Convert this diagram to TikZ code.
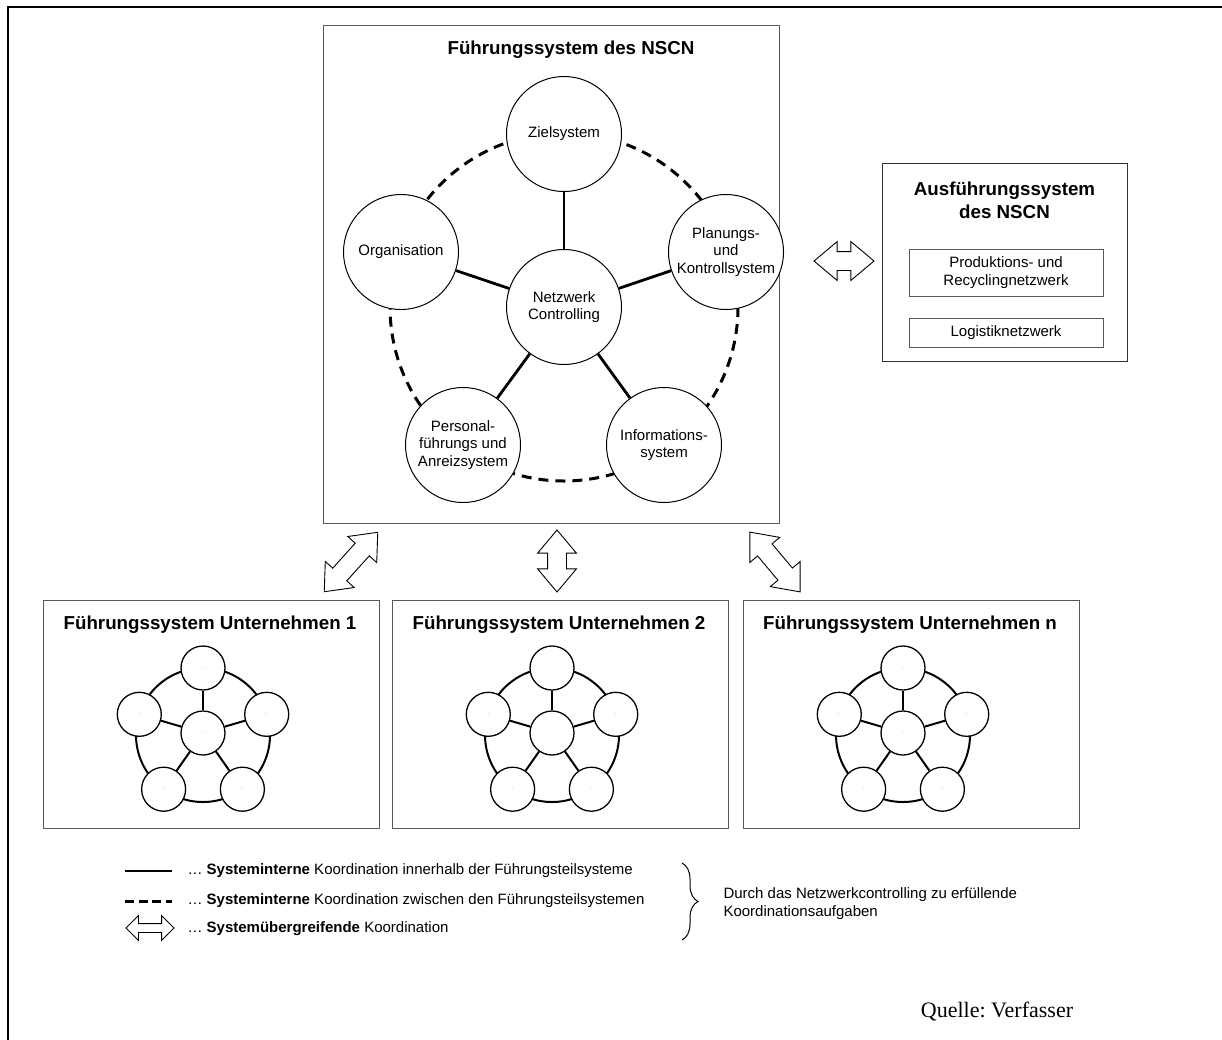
\documentclass[tikz,border=0pt]{standalone}
\usepackage{fontspec}
\setmainfont{Liberation Sans}
\newfontfamily\quellefont{Liberation Serif}
\usetikzlibrary{shapes.arrows,decorations.pathreplacing,calc}
\frenchspacing

\tikzset{
    box/.style={draw=black!65,line width=1pt,inner sep=0pt},
    kopf/.style={font=\bfseries\fontsize{18.75}{23}\selectfont,align=center},
    body/.style={font=\fontsize{15}{17.5}\selectfont,align=center},
    teil/.style={circle,draw,fill=white,line width=1pt,minimum size=115pt,
        inner sep=0pt,body},
    mini/.style={circle,draw,fill=white,line width=1.3pt,minimum size=44pt,
        inner sep=0pt,text=black!55,font=\fontsize{4}{4}\selectfont},
    intern/.style={line width=2.8pt},
    zwischen/.style={line width=3pt,dash pattern=on 10pt off 7pt},
    koord/.style={double arrow,draw,fill=white,line width=0.9pt,
        inner xsep=0pt,inner ysep=9pt,double arrow head extend=10pt,
        double arrow tip angle=80,minimum height=#1}
}

\begin{document}
\begin{tikzpicture}[x=1pt,y=-1pt]
\useasboundingbox (0,0) rectangle (1222,1039);
\draw[line width=2.5pt] (8,1045) -- (8,7) -- (1230,7);

% Fuehrungssystem des NSCN
\node[box,minimum width=456pt,minimum height=498pt] (nscn) at (551,274) {};
\node[kopf] (nscn-t) at (571,50) {Führungssystem des NSCN};
\draw[zwischen] (564,307) circle[radius=174];
\node[teil] (ziel) at (564,134) {Zielsystem};
\node[teil] (org) at (401,252) {Organisation};
\node[teil] (plan) at (726,252) {Planungs-\\und\\Kontrollsystem};
\node[teil] (netz) at (564,307) {Netzwerk\\Controlling};
\node[teil] (pers) at (463,445) {Personal-\\führungs und\\Anreizsystem};
\node[teil] (info) at (664,445) {Informations-\\system};
\foreach \n in {ziel,org,plan,pers,info}
    \draw[intern] (netz) -- (\n);

% Ausfuehrungssystem
\node[box,draw=black!80,minimum width=245pt,minimum height=198pt] (exec) at (1004.5,262) {};
\node[kopf] (exec-t) at (1004.5,200.5) {Ausführungssystem\\des NSCN};
\node[box,body,minimum width=194pt,minimum height=47pt] (prod) at (1006,272.5)
    {Produktions- und\\Recyclingnetzwerk};
\node[box,body,minimum width=194pt,minimum height=29pt] (logi) at (1006,332.5)
    {Logistiknetzwerk};

% systemuebergreifende Koordination
\node[koord=60pt] (a0) at (844,261) {};
\node[koord=80pt,rotate=48] (a1) at (351,562) {};
\node[koord=62pt,rotate=90] (a2) at (557,561) {};
\node[koord=78pt,rotate=-50] (a3) at (775,562) {};

% Fuehrungssysteme der Unternehmen
\foreach \i/\x/\nr in {1/43/1,2/392/2,3/743/n}{
    \node[box,minimum width=336pt,minimum height=228pt] (u\i) at (\x+168,714) {};
    \node[kopf] (u\i-t) at (\x+167,625) {Führungssystem Unternehmen \nr};
    \coordinate (u\i-m) at (\x+160,735);
    \draw[line width=2pt] (u\i-m) circle[radius=67];
    \node[mini] (u\i-c) at (\x+160,733) {…};
    \foreach \w [count=\j] in {90,162,234,306,18}
        \node[mini] (u\i-k\j) at ($(u\i-m)+(-\w:67)$) {…};
    \foreach \j in {1,...,5}
        \draw[line width=2pt] (u\i-c) -- (u\i-k\j);
}

% Legende
\draw[intern] (125,871) -- (172,871);
\draw[zwischen,dash pattern=on 9pt off 4.7pt] (125,901) -- (172,901);
\node[double arrow,draw,line width=0.9pt,inner xsep=0pt,inner ysep=4pt,
    double arrow head extend=8pt,minimum height=48pt] (leg-a) at (150,928) {};
\node[body,anchor=west] (leg1) at (184,871)
    {… \textbf{Systeminterne} Koordination innerhalb der Führungsteilsysteme};
\node[body,anchor=west] (leg2) at (184,901)
    {… \textbf{Systeminterne} Koordination zwischen den Führungsteilsystemen};
\node[body,anchor=west] (leg3) at (184,929)
    {… \textbf{Systemübergreifende} Koordination};
\draw[decorate,decoration={brace,amplitude=16pt},line width=1pt] (682,863) -- (682,940);
\node[body,align=left,anchor=west] (durch) at (720,903.5)
    {Durch das Netzwerkcontrolling zu erfüllende\\Koordinationsaufgaben};

\node[font=\quellefont\fontsize{22}{26}\selectfont] (quelle) at (997,1012) {Quelle: Verfasser};
\end{tikzpicture}
\end{document}
